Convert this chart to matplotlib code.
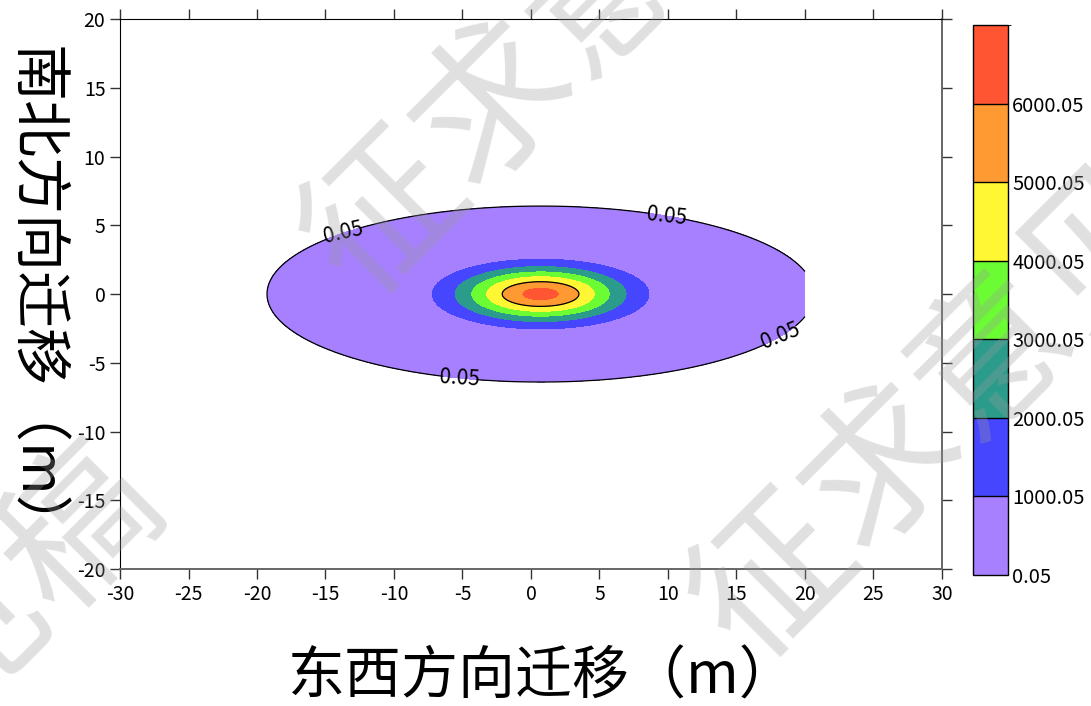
import numpy as np
import matplotlib
matplotlib.use("Agg")
import matplotlib.pyplot as plt
from matplotlib.colors import ListedColormap, BoundaryNorm

plt.rcParams['font.family'] = ['Noto Sans CJK SC', 'DejaVu Sans']
plt.rcParams['axes.unicode_minus'] = False

# contour levels and band colours
levels = [0.05, 1000.05, 2000.05, 3000.05, 4000.05, 5000.05, 6000.05, 7000.05]
band_colors = ['#a680ff', '#4646ff', '#2b9c8c', '#6cfc33', '#fff734', '#ff9a33', '#ff5533']
cbar_labels = ['0.05', '1000.05', '2000.05', '3000.05', '4000.05', '5000.05', '6000.05']

# plume parameters
peak = 6300.0        # peak concentration
x0, y0 = 0.7, 0.0    # plume centre (m)
sx, sy = 4.12, 1.32  # spread east-west / north-south (m)
grid_x = np.linspace(-20, 20, 401)
grid_y = np.linspace(-20, 20, 401)

# hand placed contour-label spots
label_spots = [(-13.7, 4.4), (9.9, 5.7), (18.2, -3.05), (-5.2, -6.25)]

X, Y = np.meshgrid(grid_x, grid_y)
C = peak * np.exp(-((X - x0) ** 2 / (2 * sx ** 2) + (Y - y0) ** 2 / (2 * sy ** 2)))

fig = plt.figure(figsize=(10.91, 7.06), dpi=100)
ax = fig.add_axes([0.110, 0.194, 0.7534, 0.779])
cax = fig.add_axes([0.8918, 0.1856, 0.0321, 0.779])

cmap = ListedColormap(band_colors)
norm = BoundaryNorm(levels, cmap.N)
cf = ax.contourf(X, Y, C, levels=levels, cmap=cmap, norm=norm)

cs = ax.contour(X, Y, C, levels=[levels[0]], colors='black', linewidths=0.9)
ax.clabel(cs, fmt='%.2f', manual=label_spots, fontsize=15, inline=True)
ax.contour(X, Y, C, levels=[levels[5]], colors='black', linewidths=0.9)

ax.set_xlim(-30, 30)
ax.set_ylim(-20, 20)
ax.set_xticks(np.arange(-30, 31, 5))
ax.set_yticks(np.arange(-20, 21, 5))
ax.tick_params(direction='out', length=7, width=1, labelsize=14,
               top=True, right=True, color='#333333')
for side in ['bottom', 'right']:
    ax.spines[side].set_color('#666666')
    ax.spines[side].set_linewidth(1.4)

cb = fig.colorbar(cf, cax=cax, drawedges=True)
cb.set_ticks(levels[:-1])
cb.set_ticklabels(cbar_labels)
cb.ax.tick_params(length=0, pad=3, labelsize=14.5)
cb.outline.set_linewidth(1)
cb.dividers.set_linewidth(1)

fig.text(0.497, 0.040, '东西方向迁移（m）', fontsize=41, ha='center', va='center')
fig.text(0.031, 0.575, '南北方向迁移（m）', fontsize=41, rotation=-90, ha='center', va='center')

# watermark
wm = '征求意见稿'
for px, py in [(0.555, 1.007), (0.912, 0.492), (-0.127, -0.062)]:
    fig.text(px, py, wm, fontsize=112, rotation=45, ha='center', va='center',
             color='#9a9a9a', alpha=0.3, zorder=10)

fig.savefig('out.png', dpi=100)
